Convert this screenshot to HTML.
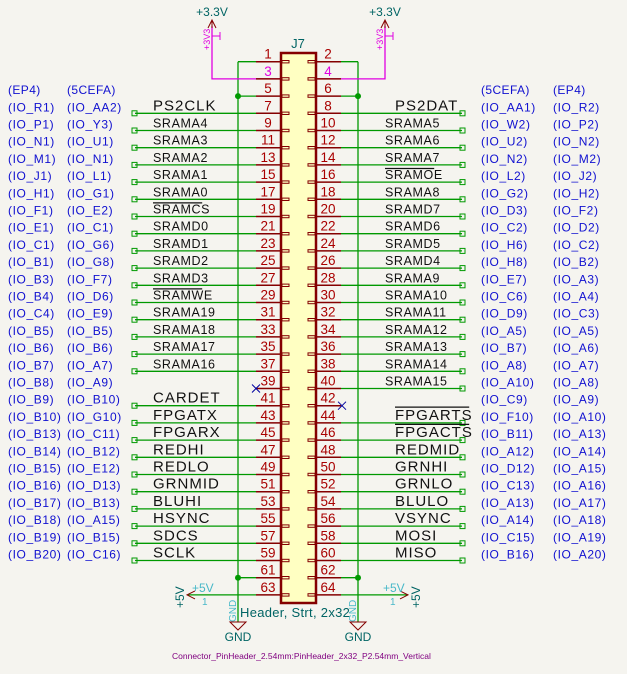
<!DOCTYPE html>
<html><head><meta charset="utf-8"><style>
html,body{margin:0;padding:0;background:#f5f4ef;}
svg{display:block;font-family:"Liberation Sans",sans-serif;}
</style></head><body>
<svg id="s" width="627" height="674" viewBox="0 0 627 674">
<rect x="0" y="0" width="627" height="674" fill="#f5f4ef"/>
<g id="g"></g>
</svg>
<script>
const leftEP4 = ["(IO_R1)","(IO_P1)","(IO_N1)","(IO_M1)","(IO_J1)","(IO_H1)","(IO_F1)","(IO_E1)","(IO_C1)","(IO_B1)","(IO_B3)","(IO_B4)","(IO_C4)","(IO_B5)","(IO_B6)","(IO_B7)","(IO_B8)","(IO_B9)","(IO_B10)","(IO_B13)","(IO_B14)","(IO_B15)","(IO_B16)","(IO_B17)","(IO_B18)","(IO_B19)","(IO_B20)"];
const leftCEFA = ["(IO_AA2)","(IO_Y3)","(IO_U1)","(IO_N1)","(IO_L1)","(IO_G1)","(IO_E2)","(IO_C1)","(IO_G6)","(IO_G8)","(IO_F7)","(IO_D6)","(IO_E9)","(IO_B5)","(IO_B6)","(IO_A7)","(IO_A9)","(IO_B10)","(IO_G10)","(IO_C11)","(IO_B12)","(IO_E12)","(IO_D13)","(IO_B13)","(IO_A15)","(IO_B15)","(IO_C16)"];
const leftSig = ["PS2CLK","SRAMA4","SRAMA3","SRAMA2","SRAMA1","SRAMA0","~SRAMCS","SRAMD0","SRAMD1","SRAMD2","SRAMD3","~SRAMWE","SRAMA19","SRAMA18","SRAMA17","SRAMA16","","CARDET","FPGATX","FPGARX","REDHI","REDLO","GRNMID","BLUHI","HSYNC","SDCS","SCLK"];
const rightSig = ["PS2DAT","SRAMA5","SRAMA6","SRAMA7","~SRAMOE","SRAMA8","SRAMD7","SRAMD6","SRAMD5","SRAMD4","SRAMA9","SRAMA10","SRAMA11","SRAMA12","SRAMA13","SRAMA14","SRAMA15","","~FPGARTS","~FPGACTS","REDMID","GRNHI","GRNLO","BLULO","VSYNC","MOSI","MISO"];
const rightCEFA = ["(IO_AA1)","(IO_W2)","(IO_U2)","(IO_N2)","(IO_L2)","(IO_G2)","(IO_D3)","(IO_C2)","(IO_H6)","(IO_H8)","(IO_E7)","(IO_C6)","(IO_D9)","(IO_A5)","(IO_B7)","(IO_A8)","(IO_A10)","(IO_C9)","(IO_F10)","(IO_B11)","(IO_A12)","(IO_D12)","(IO_C13)","(IO_A13)","(IO_A14)","(IO_C15)","(IO_B16)"];
const rightEP4 = ["(IO_R2)","(IO_P2)","(IO_N2)","(IO_M2)","(IO_J2)","(IO_H2)","(IO_F2)","(IO_D2)","(IO_C2)","(IO_B2)","(IO_A3)","(IO_A4)","(IO_C3)","(IO_A5)","(IO_A6)","(IO_A7)","(IO_A8)","(IO_A9)","(IO_A10)","(IO_A13)","(IO_A14)","(IO_A15)","(IO_A16)","(IO_A17)","(IO_A18)","(IO_A19)","(IO_A20)"];

const NS="http://www.w3.org/2000/svg";
const g=document.getElementById('g');
function rowY(k){return 61.7+k*17.2;}
function el(tag,attrs,name,txt){
  const e=document.createElementNS(NS,tag);
  for(const a in attrs)e.setAttribute(a,attrs[a]);
  
  
  if(txt!==undefined)e.textContent=txt;
  g.appendChild(e);return e;
}
const GREEN="#009900",PIN="#840000",NUM="#a90000",BLUE="#1010d0",MAG="#e000e0",TEAL="#006464",LT="#48b8c8";

el('line',{x1:238,y1:rowY(0),x2:238,y2:622,stroke:GREEN,'stroke-width':1.3},'left-gnd-wire');
el('line',{x1:358,y1:rowY(0),x2:358,y2:622,stroke:GREEN,'stroke-width':1.3},'right-gnd-wire');
el('line',{x1:238,y1:rowY(0),x2:256,y2:rowY(0),stroke:GREEN,'stroke-width':1.3},'pin1-wire');
el('line',{x1:341,y1:rowY(0),x2:358,y2:rowY(0),stroke:GREEN,'stroke-width':1.3},'pin2-wire');
el('polyline',{points:`212,26 212,${rowY(1)} 281,${rowY(1)}`,fill:'none',stroke:MAG,'stroke-width':1.3},'pin3-3v3-wire');
el('polyline',{points:`385,26 385,${rowY(1)} 316,${rowY(1)}`,fill:'none',stroke:MAG,'stroke-width':1.3},'pin4-3v3-wire');
el('line',{x1:188,y1:rowY(31),x2:256,y2:rowY(31),stroke:GREEN,'stroke-width':1.3},'pin63-5v-wire');
el('line',{x1:341,y1:rowY(31),x2:408,y2:rowY(31),stroke:GREEN,'stroke-width':1.3},'pin64-5v-wire');
[[238,rowY(2)],[358,rowY(2)],[238,rowY(30)],[358,rowY(30)]].forEach((p,i)=>{
  el('circle',{cx:p[0],cy:p[1],r:3,fill:GREEN},'junction-dot');
});
el('line',{x1:238,y1:rowY(2),x2:256,y2:rowY(2),stroke:GREEN,'stroke-width':1.3},'pin5-wire');
el('line',{x1:341,y1:rowY(2),x2:358,y2:rowY(2),stroke:GREEN,'stroke-width':1.3},'pin6-wire');
el('line',{x1:238,y1:rowY(30),x2:256,y2:rowY(30),stroke:GREEN,'stroke-width':1.3},'pin61-wire');
el('line',{x1:341,y1:rowY(30),x2:358,y2:rowY(30),stroke:GREEN,'stroke-width':1.3},'pin62-wire');

el('rect',{x:281,y:53,width:35,height:550,fill:'#ffffc2',stroke:PIN,'stroke-width':2.5},'header-body');
el('text',{x:298,y:48,'font-size':13,fill:TEAL,'text-anchor':'middle'},'ref-j7','J7');

for(let k=0;k<32;k++){
  const y=rowY(k);
  el('line',{x1:256,y1:y,x2:281,y2:y,stroke:PIN,'stroke-width':1.5},'pin-left');
  el('line',{x1:316,y1:y,x2:341,y2:y,stroke:PIN,'stroke-width':1.5},'pin-right');
  el('rect',{x:282,y:y-1.2,width:7,height:2.4,fill:'none',stroke:PIN,'stroke-width':1},'pin-stub-left');
  el('rect',{x:308,y:y-1.2,width:7,height:2.4,fill:'none',stroke:PIN,'stroke-width':1},'pin-stub-right');
  el('text',{x:268,y:y-3,'font-size':13.5,fill:k===1?MAG:NUM,'text-anchor':'middle'},'pin-number',String(2*k+1));
  el('text',{x:328,y:y-3,'font-size':13.5,fill:k===1?MAG:NUM,'text-anchor':'middle'},'pin-number',String(2*k+2));
}

function sigText(x,y,s,big,anchor){
  const over=s.startsWith('~');const t=over?s.slice(1):s;
  const fs=big?15:12.5;
  el('text',{x:x,y:y-3,'font-size':fs,fill:'#111','letter-spacing':big?1:0.6,'text-anchor':anchor||'start'},'signal-label',t);
  if(over){
    const w=t.length*(big?10.6:8.2);
    el('line',{x1:x,y1:y-3-fs*0.85,x2:x+w,y2:y-3-fs*0.85,stroke:'#111','stroke-width':1.2},'overbar');
  }
}
el('text',{x:8,y:rowY(2)-2,'font-size':12,fill:BLUE,'letter-spacing':0.4},'left-ep4-header','(EP4)');
el('text',{x:67,y:rowY(2)-2,'font-size':12,fill:BLUE,'letter-spacing':0.4},'left-5cefa-header','(5CEFA)');
el('text',{x:481,y:rowY(2)-2,'font-size':12,fill:BLUE,'letter-spacing':0.4},'right-5cefa-header','(5CEFA)');
el('text',{x:553,y:rowY(2)-2,'font-size':12,fill:BLUE,'letter-spacing':0.4},'right-ep4-header','(EP4)');

for(let i=0;i<leftSig.length;i++){
  const k=i+3,y=rowY(k);
  el('text',{x:8,y:y-2,'font-size':12,fill:BLUE,'letter-spacing':0.6},'left-ep4-pin',leftEP4[i]);
  el('text',{x:67,y:y-2,'font-size':12,fill:BLUE,'letter-spacing':0.6},'left-5cefa-pin',leftCEFA[i]);
  el('text',{x:481,y:y-2,'font-size':12,fill:BLUE,'letter-spacing':0.6},'right-5cefa-pin',rightCEFA[i]);
  el('text',{x:553,y:y-2,'font-size':12,fill:BLUE,'letter-spacing':0.6},'right-ep4-pin',rightEP4[i]);
  const bigL = !leftSig[i].includes('SRAM');
  const bigR = !rightSig[i].includes('SRAM');
  if(leftSig[i]){
    el('line',{x1:135,y1:y,x2:256,y2:y,stroke:GREEN,'stroke-width':1.3},'signal-wire-left');
    el('rect',{x:132,y:y-2.5,width:5,height:5,fill:'none',stroke:GREEN,'stroke-width':1},'wire-end-left');
    sigText(153,y,leftSig[i],bigL);
  } else {
    el('path',{d:`M${252},${y-4}l8,8M${252},${y+4}l8,-8`,stroke:'#0000a0','stroke-width':1},'no-connect-x');
  }
  if(rightSig[i]){
    el('line',{x1:341,y1:y,x2:462,y2:y,stroke:GREEN,'stroke-width':1.3},'signal-wire-right');
    el('rect',{x:460,y:y-2.5,width:5,height:5,fill:'none',stroke:GREEN,'stroke-width':1},'wire-end-right');
    sigText(bigR?395:385,y,rightSig[i],bigR);
  } else {
    el('path',{d:`M${338},${y-4}l8,8M${338},${y+4}l8,-8`,stroke:'#0000a0','stroke-width':1},'no-connect-x');
  }
}
[212,385].forEach(x=>{
  el('text',{x:x,y:16,'font-size':12,fill:TEAL,'text-anchor':'middle'},'power-3v3-label','+3.3V');
  el('path',{d:`M${x},20v8M${x-4},28l4,-8l4,8`,fill:'none',stroke:PIN,'stroke-width':1},'power-3v3-arrow');
  el('text',{x:0,y:0,'font-size':9,fill:MAG,transform:`translate(${x-2},50) rotate(-90)`},'power-3v3-net','+3V3');
  el('path',{d:`M${x},36h8M${x+8},32v8`,fill:'none',stroke:MAG,'stroke-width':1},'power-pin');
});
el('path',{d:`M195,${rowY(31)-4}l-8,4l8,4`,fill:'none',stroke:PIN,'stroke-width':1},'power-5v-arrow-left');
el('text',{x:192,y:rowY(31)-3,'font-size':12,fill:LT},'power-5v-label','+5V');
el('text',{x:202,y:rowY(31)+10,'font-size':10,fill:LT},'power-5v-pin','1');
el('text',{x:0,y:0,'font-size':12,fill:TEAL,transform:`translate(184,608) rotate(-90)`},'power-5v-net','+5V');
el('path',{d:`M400,${rowY(31)-4}l8,4l-8,4`,fill:'none',stroke:PIN,'stroke-width':1},'power-5v-arrow-right');
el('text',{x:383,y:rowY(31)-3,'font-size':12,fill:LT},'power-5v-label','+5V');
el('text',{x:390,y:rowY(31)+10,'font-size':10,fill:LT},'power-5v-pin','1');
el('text',{x:0,y:0,'font-size':12,fill:TEAL,transform:`translate(420,608) rotate(-90)`},'power-5v-net','+5V');
[238,358].forEach(x=>{
  el('path',{d:`M${x-8},622h16l-8,8z`,fill:'none',stroke:PIN,'stroke-width':1},'gnd-symbol');
  el('text',{x:x,y:641,'font-size':12,fill:TEAL,'text-anchor':'middle'},'gnd-label','GND');
  el('text',{x:0,y:0,'font-size':10,fill:LT,transform:`translate(${x-2},622) rotate(-90)`},'gnd-net','GND');
});
el('text',{x:240,y:617,'font-size':13,fill:TEAL,'letter-spacing':0.3},'value-label','Header, Strt, 2x32');
el('text',{x:172,y:659,'font-size':8.5,fill:'#800080'},'footprint-label','Connector_PinHeader_2.54mm:PinHeader_2x32_P2.54mm_Vertical');
</script>
</body></html>
